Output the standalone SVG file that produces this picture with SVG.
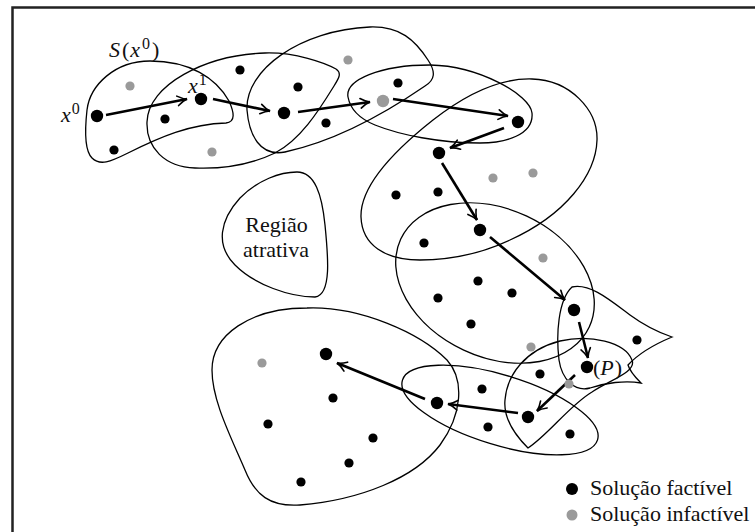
<svg xmlns="http://www.w3.org/2000/svg" width="755" height="532" viewBox="0 0 755 532">
  <style>
    .region { fill: none; stroke: #000; stroke-width: 1.3; }
    .step { fill: none; stroke: #000; stroke-width: 2.6; marker-end: url(#head); }
    .ok { fill: #000; }
    .bad { fill: #9a9a9a; }
    .lbl { font-family: "Liberation Serif", "Times New Roman", serif; font-size: 22px; fill: #111; }
    .it { font-style: italic; }
  </style>
  <defs>
    <marker id="head" viewBox="-11 -6 12 12" refX="0" refY="0" markerWidth="12" markerHeight="12" markerUnits="userSpaceOnUse" orient="auto">
      <path d="M-9.5,-4.8 C-6,-2.2 -2.5,-0.6 0,0 C-2.5,0.6 -6,2.2 -9.5,4.8" fill="none" stroke="#000" stroke-width="1.6" stroke-linecap="round"/>
    </marker>
  </defs>
  <rect width="755" height="532" fill="#fff"/>
  <!-- frame -->
  <path d="M12.5,540 V7.5 H760" fill="none" stroke="#222" stroke-width="2.5"/>

  <!-- neighbourhoods -->
  <g id="regions">
    <path id="nbhd-a" class="region" d="M150,61 C115,61 90,85 87,110 C85,128 84,150 92,158 C100,166 110,162 128,153 C160,137 190,124 226,123 C236,122 234,112 229,101 C216,78 190,61 150,61 Z"/>
    <path id="nbhd-b" class="region" d="M147,122 C148,85 205,55 265,53 C295,52 325,63 336,69 C342,73 339,78 334,86 C318,112 300,140 275,153 C250,165 220,169 195,168 C165,167 146,148 147,122 Z"/>
    <path id="nbhd-c" class="region" d="M247,110 C245,70 300,30 370,27 C400,26 415,40 428,60 C436,72 435,80 425,86 C390,110 340,140 285,152 C260,157 249,135 247,110 Z"/>
    <path id="nbhd-d" class="region" d="M348,97 C345,80 380,65 430,65 C480,66 530,95 532,113 C534,135 505,143 480,143 C440,143 400,135 375,125 C358,118 350,108 348,97 Z"/>
    <path id="nbhd-e" class="region" d="M361,217 C360,185 395,150 433,120 C465,95 500,78 532,79 C570,80 598,110 597,140 C596,175 565,215 510,240 C480,254 450,260 420,260 C385,260 362,245 361,217 Z"/>
    <ellipse id="nbhd-f" class="region" cx="495" cy="283" rx="104" ry="74" transform="rotate(25 495 283)"/>
    <path id="nbhd-g" class="region" d="M572,287 C590,283 610,300 630,315 C645,326 660,333 672,337 C660,342 640,352 628,365 C630,372 636,378 641,383 C625,380 605,383 590,388 C575,392 562,380 559,360 C556,335 558,300 572,287 Z"/>
    <path id="nbhd-h" class="region" d="M528,448 C518,438 503,420 505,400 C507,375 525,350 560,341 C590,334 625,342 632,360 C637,372 610,380 592,392 C570,405 548,435 528,448 Z"/>
    <ellipse id="nbhd-i" class="region" cx="500" cy="410" rx="102" ry="35" transform="rotate(17 500 410)"/>
    <path id="nbhd-j" class="region" d="M307,308 C360,306 420,333 447,360 C465,380 462,415 440,445 C415,478 360,500 300,505 C270,507 255,495 245,470 C230,435 212,400 212,370 C212,335 250,308 307,308 Z"/>
  </g>

  <!-- attractive region -->
  <g id="attractive-region">
    <path class="region" d="M297,172 C315,172 322,195 325,225 C328,255 332,295 315,297 C290,297 255,285 235,265 C215,245 220,220 240,198 C258,180 280,172 297,172 Z"/>
    <text class="lbl" x="276.5" y="232" text-anchor="middle">Região</text>
    <text class="lbl" x="276" y="257" text-anchor="middle">atrativa</text>
  </g>

  <!-- search steps -->
  <g id="connectors">
    <line class="step" x1="106" y1="115" x2="187" y2="99"/>
    <line class="step" x1="213" y1="99" x2="270" y2="111"/>
    <line class="step" x1="298" y1="112" x2="370" y2="102"/>
    <line class="step" x1="393" y1="99" x2="508" y2="116"/>
    <line class="step" x1="504" y1="128" x2="450" y2="148"/>
    <line class="step" x1="442" y1="163" x2="477" y2="220"/>
    <line class="step" x1="490" y1="237" x2="565" y2="300"/>
    <line class="step" x1="579" y1="322" x2="588" y2="358"/>
    <line class="step" x1="575" y1="375" x2="537" y2="411"/>
    <line class="step" x1="518" y1="413" x2="448" y2="404"/>
    <line class="step" x1="425" y1="399" x2="337" y2="363"/>
  </g>

  <!-- solutions visited along the path -->
  <g id="path-points">
    <circle id="x0" class="ok" cx="97" cy="116" r="6.2"/>
    <circle id="x1" class="ok" cx="201" cy="99" r="6.2"/>
    <circle class="ok" cx="284" cy="113" r="6.2"/>
    <circle class="bad" cx="383" cy="101" r="6.2"/>
    <circle class="ok" cx="518" cy="122" r="6.2"/>
    <circle class="ok" cx="439" cy="153" r="6.2"/>
    <circle class="ok" cx="480" cy="230" r="6.2"/>
    <circle class="ok" cx="574" cy="310" r="6.2"/>
    <circle id="p" class="ok" cx="587" cy="367" r="6.2"/>
    <circle class="ok" cx="528" cy="417" r="6.2"/>
    <circle class="ok" cx="437" cy="403" r="6.2"/>
    <circle class="ok" cx="326" cy="354" r="6.2"/>
  </g>

  <!-- other feasible solutions -->
  <g id="feasible">
    <circle class="ok" cx="114" cy="150" r="4.6"/>
    <circle class="ok" cx="165" cy="119" r="4.6"/>
    <circle class="ok" cx="240" cy="70" r="4.6"/>
    <circle class="ok" cx="298" cy="87" r="4.6"/>
    <circle class="ok" cx="326" cy="123" r="4.6"/>
    <circle class="ok" cx="398" cy="83" r="4.6"/>
    <circle class="ok" cx="396" cy="195" r="4.6"/>
    <circle class="ok" cx="438" cy="192" r="4.6"/>
    <circle class="ok" cx="424" cy="243" r="4.6"/>
    <circle class="ok" cx="478" cy="281" r="4.6"/>
    <circle class="ok" cx="438" cy="298" r="4.6"/>
    <circle class="ok" cx="512" cy="293" r="4.6"/>
    <circle class="ok" cx="471" cy="324" r="4.6"/>
    <circle class="ok" cx="637" cy="340" r="4.6"/>
    <circle class="ok" cx="540" cy="374" r="4.6"/>
    <circle class="ok" cx="482" cy="389" r="4.6"/>
    <circle class="ok" cx="488" cy="427" r="4.6"/>
    <circle class="ok" cx="570" cy="434" r="4.6"/>
    <circle class="ok" cx="333" cy="398" r="4.6"/>
    <circle class="ok" cx="268" cy="424" r="4.6"/>
    <circle class="ok" cx="373" cy="438" r="4.6"/>
    <circle class="ok" cx="349" cy="463" r="4.6"/>
    <circle class="ok" cx="301" cy="482" r="4.6"/>
  </g>

  <!-- infeasible solutions -->
  <g id="infeasible">
    <circle class="bad" cx="130" cy="86" r="4.6"/>
    <circle class="bad" cx="212" cy="152" r="4.6"/>
    <circle class="bad" cx="348" cy="60" r="4.6"/>
    <circle class="bad" cx="493" cy="178" r="4.6"/>
    <circle class="bad" cx="533" cy="173" r="4.6"/>
    <circle class="bad" cx="543" cy="258" r="4.6"/>
    <circle class="bad" cx="531" cy="347" r="4.6"/>
    <circle class="bad" cx="569" cy="384" r="4.6"/>
    <circle class="bad" cx="262" cy="363" r="4.6"/>
  </g>

  <!-- math labels -->
  <g id="labels">
    <text class="lbl" x="109" y="57" font-size="23"><tspan class="it">S</tspan><tspan dx="2">(</tspan><tspan class="it" dx="1">x</tspan><tspan dx="2" dy="-8" font-size="16">0</tspan><tspan dx="2" dy="8">)</tspan></text>
    <text class="lbl" x="61" y="122" font-size="23"><tspan class="it">x</tspan><tspan dx="1" dy="-8" font-size="16">0</tspan></text>
    <text class="lbl" x="188" y="93" font-size="23"><tspan class="it">x</tspan><tspan dx="1" dy="-8" font-size="16">1</tspan></text>
    <text class="lbl" x="593" y="375" font-size="23">(<tspan class="it">P</tspan><tspan dx="1">)</tspan></text>
  </g>

  <!-- legend -->
  <g id="legend">
    <circle class="ok" cx="572" cy="489" r="6"/>
    <text class="lbl" x="590" y="495">Solução factível</text>
    <circle class="bad" cx="572" cy="515" r="5.5"/>
    <text class="lbl" x="590" y="521">Solução infactível</text>
  </g>
</svg>
